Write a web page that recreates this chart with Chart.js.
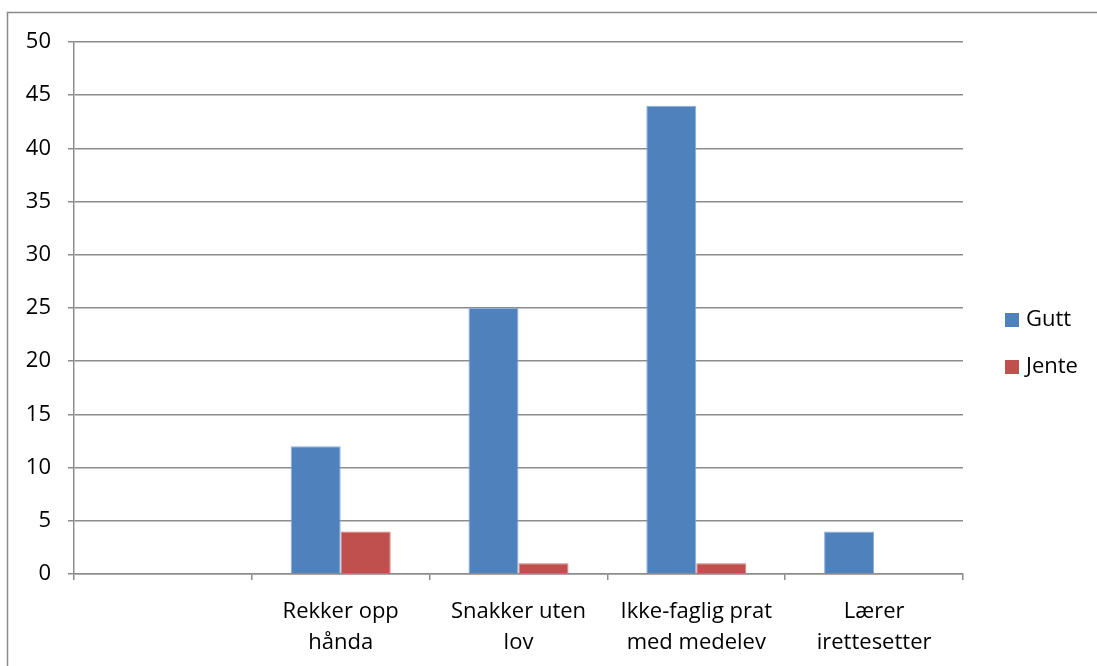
<!DOCTYPE html>
<html>
<head>
<meta charset="utf-8">
<script src="https://cdn.jsdelivr.net/npm/chart.js@4/dist/chart.umd.min.js"></script>
<style>
  html, body { margin: 0; padding: 0; background: #fff; }
  #wrap { width: 1097px; height: 666px; position: relative; }
</style>
</head>
<body>
<div id="wrap"><canvas id="c" width="1097" height="666"></canvas></div>
<script>
// Observed behaviour per category, counted for boys and girls
const categories = [
  "",
  ["Rekker opp", "hånda"],
  ["Snakker uten", "lov"],
  ["Ikke-faglig prat", "med medelev"],
  ["Lærer", "irettesetter"]
];
const gutt = [null, 12, 25, 44, 4];
const jente = [null, 4, 1, 1, 0];
const seriesNames = ["Gutt", "Jente"];
const seriesColors = ["#4F81BD", "#C0504D"];
const seriesBorders = ["#8DAEDB", "#D27F7D"];
const yTicks = [0, 5, 10, 15, 20, 25, 30, 35, 40, 45, 50];

const FONT = "'Open Sans', sans-serif";
const FONT_SIZE = 22;
const GRID = "#8C8C8C";

// Frame line around the chart, plus legend drawn at the right
const framePlugin = {
  id: "frame",
  beforeDraw(chart) {
    const ctx = chart.ctx;
    ctx.save();
    ctx.fillStyle = "#fff";
    ctx.fillRect(0, 0, chart.width, chart.height);
    ctx.strokeStyle = "#8A8A8A";
    ctx.lineWidth = 1.5;
    ctx.strokeRect(7.5, 12.5, chart.width + 10, chart.height + 10);
    ctx.restore();
  },
  afterDraw(chart) {
    const ctx = chart.ctx;
    ctx.save();
    ctx.font = FONT_SIZE + "px " + FONT;
    ctx.textBaseline = "middle";
    ctx.textAlign = "left";
    const ys = [320, 367];
    chart.data.datasets.forEach((ds, i) => {
      ctx.fillStyle = ds.backgroundColor;
      ctx.fillRect(1005, ys[i] - 7, 14, 14);
      ctx.fillStyle = "#000";
      ctx.fillText(ds.label, 1026, ys[i]);
    });
    ctx.restore();
  }
};

new Chart(document.getElementById("c"), {
  type: "bar",
  data: {
    labels: categories,
    datasets: [
      { label: seriesNames[0], data: gutt, backgroundColor: seriesColors[0], borderColor: seriesBorders[0], borderWidth: 1 },
      { label: seriesNames[1], data: jente, backgroundColor: seriesColors[1], borderColor: seriesBorders[1], borderWidth: 1 }
    ]
  },
  options: {
    responsive: false,
    animation: false,
    devicePixelRatio: 1,
    layout: { padding: { left: 0, top: 42, right: 1097 - 963, bottom: 0 } },
    datasets: { bar: { categoryPercentage: 0.5625, barPercentage: 1.0 } },
    plugins: { legend: { display: false }, tooltip: { enabled: false } },
    scales: {
      x: {
        afterFit(s) { s.height = 666 - 574; },
        grid: { drawOnChartArea: false, drawTicks: true, tickLength: 6, color: GRID, offset: true, lineWidth: 1.5 },
        border: { color: GRID, width: 1.5 },
        ticks: { color: "#000", font: { family: FONT, size: FONT_SIZE, lineHeight: 1.41 }, padding: 16, maxRotation: 0, autoSkip: false }
      },
      y: {
        min: 0, max: 50,
        afterFit(s) { s.width = 74; },
        afterBuildTicks(s) { s.ticks = yTicks.map(v => ({ value: v })); },
        grid: { color: GRID, tickLength: 6, lineWidth: 1.5 },
        border: { color: GRID, width: 1.5 },
        ticks: { color: "#000", font: { family: FONT, size: FONT_SIZE }, padding: 17 }
      }
    }
  },
  plugins: [framePlugin]
});
</script>
</body>
</html>
